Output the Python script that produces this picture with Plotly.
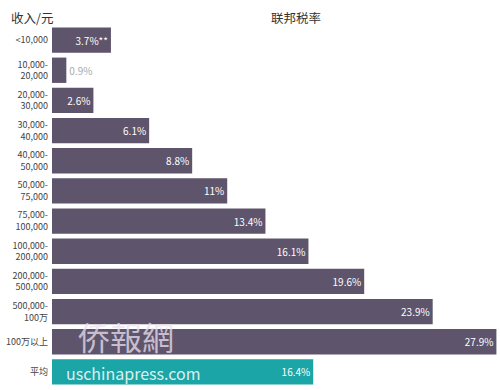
import plotly.graph_objects as go

categories = ["<10,000", "10,000-<br>20,000", "20,000-<br>30,000", "30,000-<br>40,000",
              "40,000-<br>50,000", "50,000-<br>75,000", "75,000-<br>100,000",
              "100,000-<br>200,000", "200,000-<br>500,000", "500,000-<br>100万",
              "100万以上", "平均"]
rates = [3.7, 0.9, 2.6, 6.1, 8.8, 11, 13.4, 16.1, 19.6, 23.9, 27.9, 16.4]
labels = ["3.7%**", "0.9%", "2.6%", "6.1%", "8.8%", "11%", "13.4%", "16.1%",
          "19.6%", "23.9%", "27.9%", "16.4%"]

purple = "#5e546c"
teal = "#1ba5a6"
colors = [purple] * 11 + [teal]
positions = ["inside" if r > 2 else "outside" for r in rates]
text_colors = ["white" if r > 2 else "#aaaaaa" for r in rates]

W, H = 500, 390
L, R, T, B = 52, 2, 25, 3

fig = go.Figure(go.Bar(
    x=rates, y=categories, orientation="h",
    marker=dict(color=colors, line=dict(width=0)),
    text=labels, textposition=positions, insidetextanchor="end",
    textfont=dict(family="Noto Sans CJK SC, Arial", size=10, color=text_colors),
    cliponaxis=False, width=0.84,
))

fig.update_layout(
    width=W, height=H,
    margin=dict(l=L, r=R, t=T, b=B, autoexpand=False),
    paper_bgcolor="white", plot_bgcolor="white",
    showlegend=False,
    uniformtext=dict(minsize=8, mode="show"),
    font=dict(family="Noto Sans CJK SC, Arial", color="#444444"),
    xaxis=dict(range=[0, 28.0], visible=False, fixedrange=True, automargin=False),
    yaxis=dict(autorange="reversed", showgrid=False, zeroline=False, showline=False,
               ticks="", tickfont=dict(size=9, color="#444444"), ticklabelstandoff=3,
               automargin=False, fixedrange=True),
)

plot_w = W - L - R
plot_h = H - T - B
def px(x):
    return (x - L) / plot_w
def py(y):
    return (H - B - y) / plot_h

fig.add_annotation(text="收入/元", x=px(9), y=py(17), xref="paper", yref="paper",
                   showarrow=False, xanchor="left", yanchor="middle",
                   font=dict(size=12.5, color="#333333"))
fig.add_annotation(text="联邦税率", x=px(296), y=py(17), xref="paper", yref="paper",
                   showarrow=False, xanchor="center", yanchor="middle",
                   font=dict(size=12.5, color="#333333"))
fig.add_annotation(text="侨報網", x=px(126), y=py(336), xref="paper", yref="paper",
                   showarrow=False, xanchor="center", yanchor="middle",
                   font=dict(size=32, color="rgba(235,225,240,0.75)"))
fig.add_annotation(text="uschinapress.com", x=px(64), y=py(373), xref="paper", yref="paper",
                   showarrow=False, xanchor="left", yanchor="middle",
                   font=dict(size=16, color="rgba(255,255,255,0.85)"))

fig.write_html("out.html", config={"displayModeBar": False},
               post_script="document.body.style.margin='0';document.body.style.overflow='hidden';")
